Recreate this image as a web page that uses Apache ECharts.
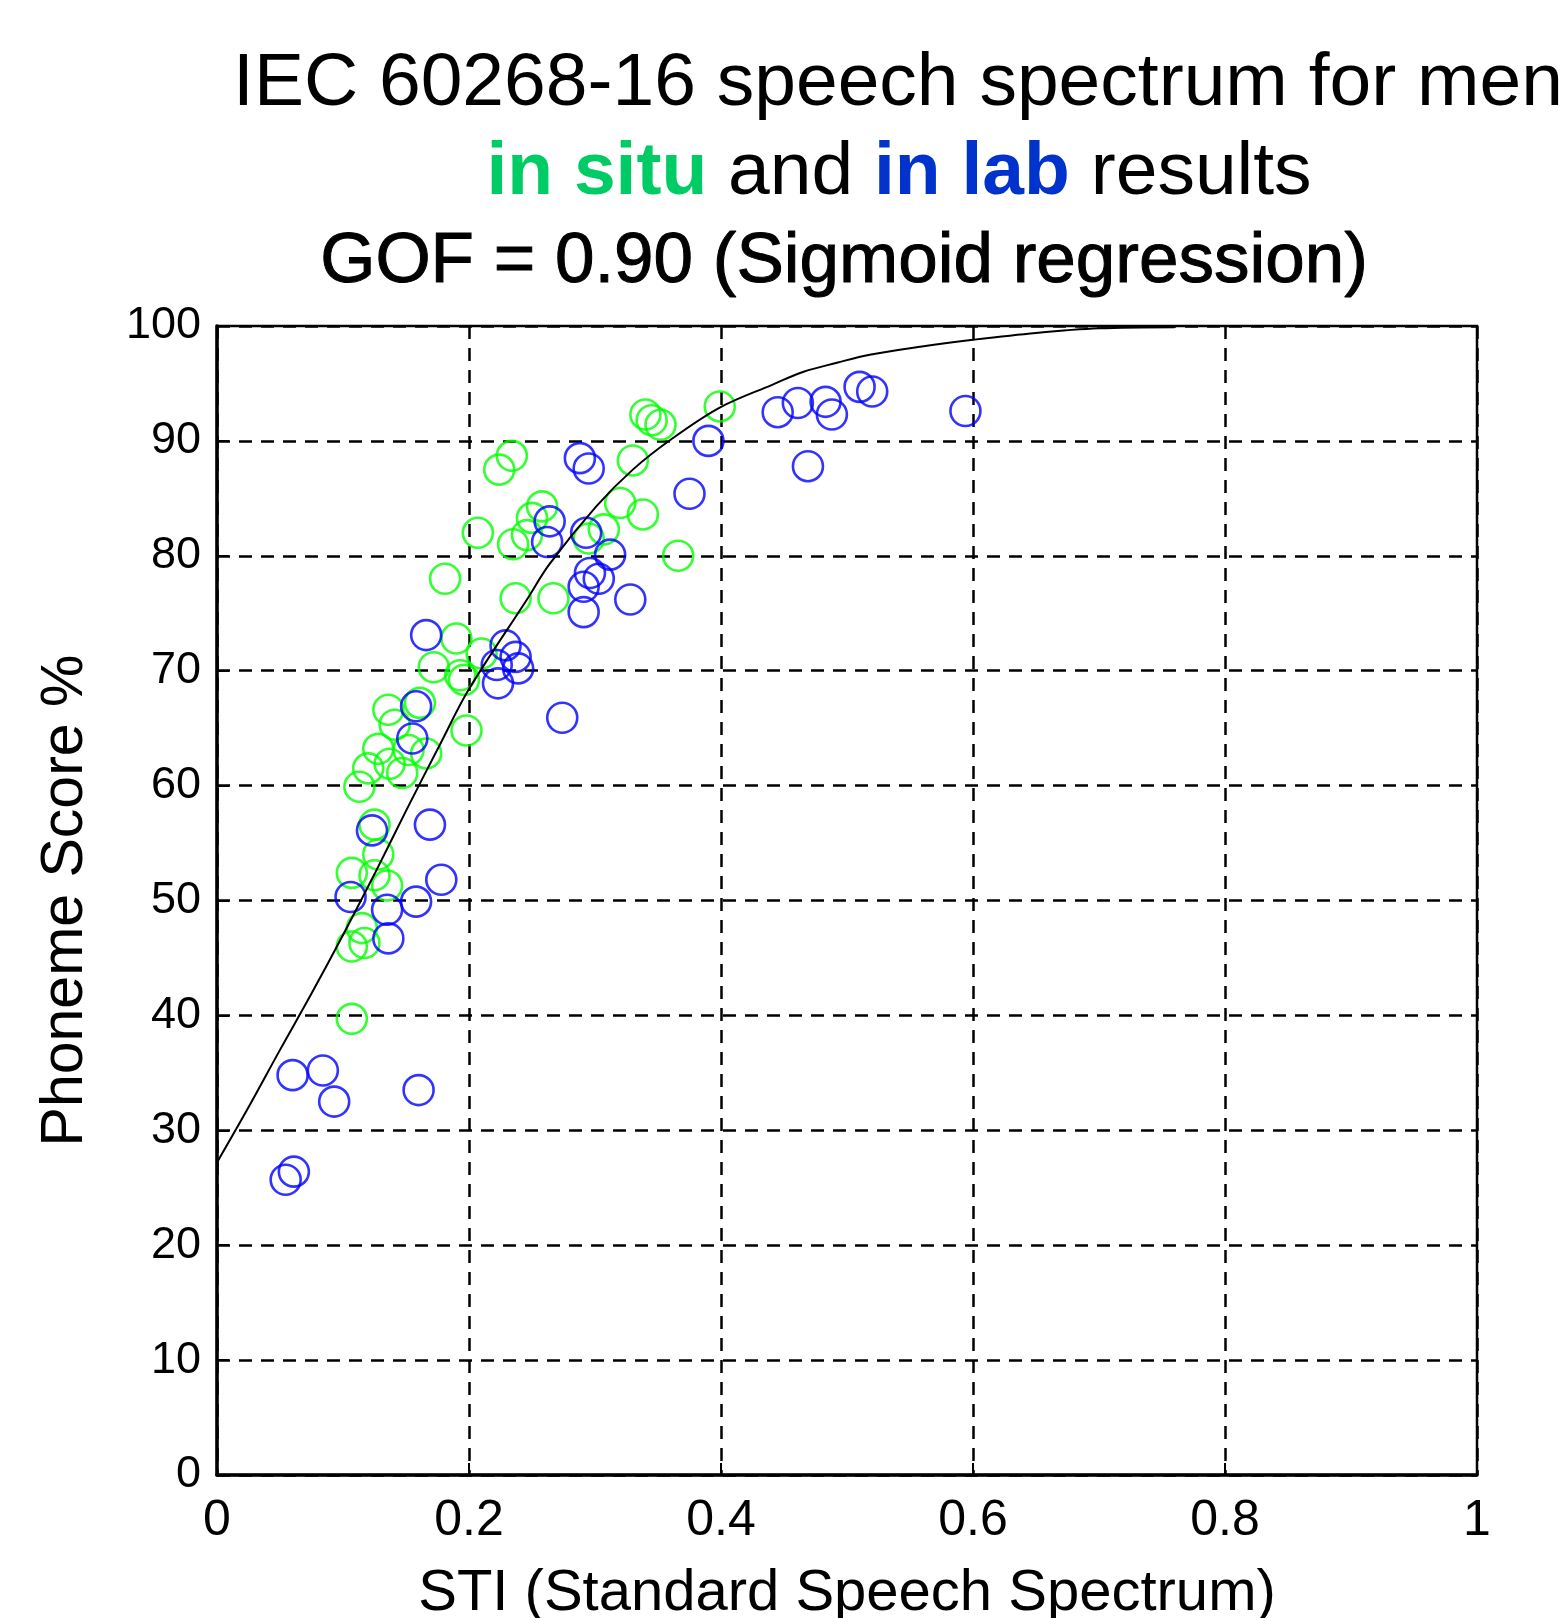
<!DOCTYPE html>
<html>
<head>
<meta charset="utf-8">
<script src="https://cdn.jsdelivr.net/npm/echarts@6/dist/echarts.min.js"></script>
<style>
html,body{margin:0;padding:0;background:#fff;}
#chart{width:1564px;height:1618px;}
</style>
</head>
<body>
<div id="chart"></div>
<script>
// In situ results (STI, phoneme score %)
const inSitu = [
  [0.107,39.7],
  [0.107,46.0],[0.117,46.3],[0.115,47.6],
  [0.107,52.4],[0.125,52.2],[0.135,51.3],[0.128,54.0],[0.125,56.6],
  [0.113,59.9],[0.120,61.5],[0.137,61.9],[0.147,61.1],[0.128,63.2],[0.152,63.1],[0.166,62.8],
  [0.141,65.3],[0.136,66.6],[0.161,67.2],[0.198,64.8],
  [0.172,70.3],[0.196,69.2],[0.190,72.8],[0.193,69.6],[0.210,71.5],
  [0.181,78.0],[0.207,82.0],[0.224,87.5],[0.234,88.7],
  [0.237,76.3],[0.267,76.3],[0.235,81.0],[0.246,81.8],[0.250,83.3],[0.258,84.3],[0.295,81.5],[0.307,82.3],
  [0.320,84.6],[0.338,83.6],[0.330,88.3],[0.366,80.0],
  [0.340,92.3],[0.345,91.8],[0.352,91.4],[0.399,93.0]
];
// In lab results
const inLab = [
  [0.0545,25.7],[0.061,26.4],[0.060,34.8],[0.084,35.2],[0.093,32.5],[0.160,33.5],
  [0.106,50.3],[0.135,49.2],[0.136,46.7],[0.158,49.9],[0.178,51.8],[0.123,56.1],[0.169,56.6],
  [0.155,64.1],[0.158,66.9],[0.166,73.1],
  [0.229,72.2],[0.237,71.2],[0.239,70.2],[0.222,70.5],[0.223,68.9],[0.274,65.9],
  [0.291,75.1],[0.291,77.3],[0.296,78.5],[0.303,78.0],[0.328,76.2],[0.312,80.1],
  [0.262,81.2],[0.264,83.0],[0.293,82.0],
  [0.288,88.5],[0.295,87.6],[0.375,85.4],[0.390,90.0],
  [0.445,92.5],[0.461,93.3],[0.483,93.4],[0.488,92.3],[0.469,87.8],[0.510,94.7],[0.520,94.3],[0.594,92.6]
];
// Sigmoid regression curve
const sigmoidCurve = [
  [0,27.2],[0.025,32.0],[0.05,37.0],[0.075,41.9],[0.1,47.0],[0.125,52.3],[0.15,57.8],
  [0.178,63.8],[0.2,68.4],[0.246,76.2],[0.264,79.3],[0.301,84.3],
  [0.33,87.5],[0.36,90.1],[0.399,92.9],[0.441,94.9],[0.465,96.0],[0.492,96.8],[0.518,97.5],
  [0.558,98.2],[0.6,98.8],[0.65,99.4],[0.7,99.8],[0.76,99.9]
];
const xTicks = [0, 0.2, 0.4, 0.6, 0.8, 1];
const yTicks = [0,10,20,30,40,50,60,70,80,90,100];

const FONT = '"Liberation Sans", Arial, Helvetica, sans-serif';
const chart = echarts.init(document.getElementById('chart'), null, {renderer:'canvas'});
const markerStyle = (c) => ({color:'rgba(0,0,0,0)', borderColor:c, borderWidth:2.6});

chart.setOption({
  backgroundColor:'#ffffff',
  animation:false,
  grid:{left:217, right:87, top:326, bottom:143, outerBoundsMode:'none', containLabel:false,
    show:true, borderColor:'#000', borderWidth:2.5, backgroundColor:'transparent'},
  xAxis:{
    type:'value', min:0, max:1, interval:0.2,
    name:'STI (Standard Speech Spectrum)', nameLocation:'middle', nameGap:90,
    nameTextStyle:{fontFamily:FONT, fontSize:58, color:'#000'},
    axisLine:{show:true, lineStyle:{color:'#000', width:3.5}},
    axisTick:{show:true, inside:true, length:12, lineStyle:{color:'#000', width:2}},
    axisLabel:{fontFamily:FONT, fontSize:50, color:'#000', margin:21,
      formatter:(v)=> String(+v.toFixed(1))},
    splitLine:{show:true, lineStyle:{color:'#000', width:2.5, type:[13,9]}}
  },
  yAxis:{
    type:'value', min:0, max:100, interval:10,
    name:'Phoneme Score %', nameLocation:'middle', nameGap:122, nameRotate:90,
    nameTextStyle:{fontFamily:FONT, fontSize:59, color:'#000'},
    axisLine:{show:true, lineStyle:{color:'#000', width:3.5}},
    axisTick:{show:true, inside:true, length:12, lineStyle:{color:'#000', width:2}},
    axisLabel:{fontFamily:FONT, fontSize:45, color:'#000', margin:16},
    splitLine:{show:true, lineStyle:{color:'#000', width:2.5, type:[13,9]}}
  },
  series:[
    {type:'scatter', name:'in situ', data:inSitu, symbol:'circle', symbolSize:30,
      itemStyle:markerStyle('#00FF00'), z:3},
    {type:'scatter', name:'in lab', data:inLab, symbol:'circle', symbolSize:30,
      itemStyle:markerStyle('#0000FF'), z:4},
    {type:'line', name:'sigmoid', data:sigmoidCurve, showSymbol:false, symbol:'none', smooth:0.35,
      lineStyle:{color:'#000', width:2}, z:5}
  ],
  graphic:[
    {type:'text', x:898, y:84, style:{text:'IEC 60268-16 speech spectrum for men', font:'75px '+FONT, fill:'#000', textAlign:'center', textVerticalAlign:'middle'}},
    {type:'text', x:899, y:173, style:{
      text:'{g|in situ}{n| and }{b|in lab}{n| results}',
      textAlign:'center', textVerticalAlign:'middle',
      rich:{
        g:{fontFamily:FONT, fontSize:75, fontWeight:'bold', fill:'#00CC66', color:'#00CC66'},
        b:{fontFamily:FONT, fontSize:75, fontWeight:'bold', fill:'#0033CC', color:'#0033CC'},
        n:{fontFamily:FONT, fontSize:75, fill:'#000', color:'#000'}
      }}},
    {type:'text', x:844, y:262, style:{text:'GOF = 0.90 (Sigmoid regression)', font:'71px '+FONT, fill:'#000', stroke:'#000', lineWidth:1, textAlign:'center', textVerticalAlign:'middle'}}
  ]
});
</script>
</body>
</html>
